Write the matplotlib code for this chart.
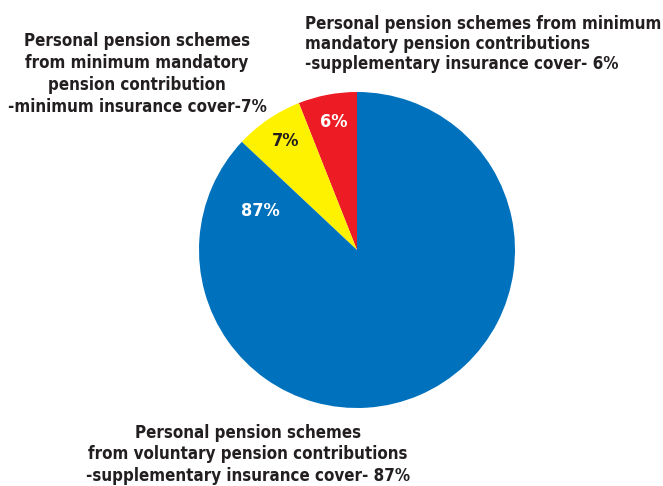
import matplotlib
matplotlib.use("Agg")
import matplotlib.pyplot as plt

# shares of personal pension schemes (%)
shares = [6, 7, 87]
colors = ["#ed1c24", "#fff200", "#0071bc"]
pct_labels = ["6%", "7%", "87%"]
pct_colors = ["white", "#231f20", "white"]
# label positions in pie units (radius = 1)
pct_pos = [(-0.15, 0.81), (-0.45, 0.69), (-0.61, 0.25)]

label_left = ("Personal pension schemes\nfrom minimum mandatory\n"
              "pension contribution\n-minimum insurance cover-7%")
label_right = ("Personal pension schemes from minimum\n"
               "mandatory pension contributions\n"
               "-supplementary insurance cover- 6%")
label_bottom = ("Personal pension schemes\nfrom voluntary pension contributions\n"
                "-supplementary insurance cover- 87%")

plt.rcParams['font.family'] = ['DejaVu Sans']
plt.rcParams['font.stretch'] = 'condensed'
txt_color = "#231f20"

W, H = 663, 486
fig = plt.figure(figsize=(W / 100, H / 100), dpi=100)

# pie: center (357, 250) px, radius 158 px
cx, cy, r = 357, 250, 158
ax = fig.add_axes([(cx - r) / W, (H - cy - r) / H, 2 * r / W, 2 * r / H])
ax.pie(shares, colors=colors, startangle=90, counterclock=True,
       radius=1, wedgeprops=dict(linewidth=0))
ax.set_xlim(-1, 1)
ax.set_ylim(-1, 1)
ax.set_aspect('equal')
ax.axis('off')

fs = 12.2
for lab, col, (x, y) in zip(pct_labels, pct_colors, pct_pos):
    ax.text(x, y, lab, color=col, fontsize=13, fontweight='bold',
            ha='center', va='center')

fig.text(137 / W, 1 - 74 / H, label_left, ha='center', va='center',
         fontsize=fs, fontweight='bold', color=txt_color, linespacing=1.3)
fig.text(305 / W, 1 - 44 / H, label_right, ha='left', va='center',
         fontsize=fs, fontweight='bold', color=txt_color, linespacing=1.15)
fig.text(248 / W, 1 - 454 / H, label_bottom, ha='center', va='center',
         fontsize=fs, fontweight='bold', color=txt_color, linespacing=1.25)

fig.savefig("out.png", dpi=100)
